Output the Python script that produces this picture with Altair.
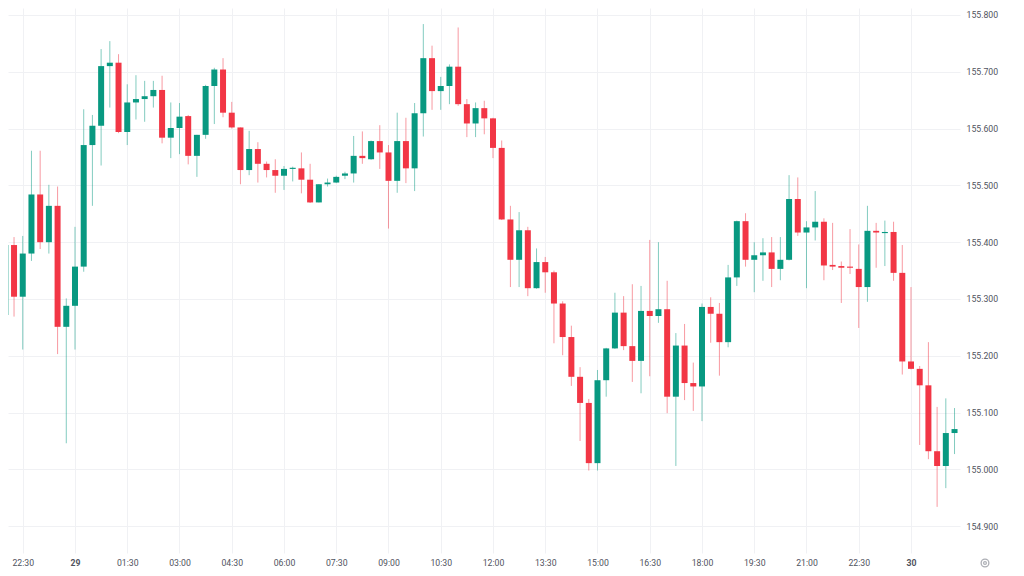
import json
import altair as alt
import pandas as pd

# ---- data (15-minute candles) ----
opens = [155.272, 155.395, 155.304, 155.380, 155.484, 155.400, 155.464, 155.251, 155.288, 155.357,
         155.571, 155.605, 155.710, 155.716, 155.594, 155.646, 155.652, 155.657, 155.668, 155.584,
         155.601, 155.622, 155.552, 155.589, 155.675, 155.704, 155.628, 155.602, 155.527, 155.564,
         155.538, 155.527, 155.517, 155.529, 155.530, 155.510, 155.470, 155.502, 155.505, 155.517,
         155.521, 155.552, 155.546, 155.578, 155.558, 155.508, 155.578, 155.530, 155.627, 155.724,
         155.666, 155.675, 155.709, 155.643, 155.609, 155.636, 155.618, 155.566, 155.440, 155.369,
         155.421, 155.319, 155.365, 155.347, 155.292, 155.233, 155.163, 155.117, 155.011, 155.157,
         155.213, 155.276, 155.217, 155.191, 155.279, 155.270, 155.282, 155.128, 155.218, 155.152,
         155.146, 155.286, 155.274, 155.224, 155.338, 155.437, 155.369, 155.377, 155.382, 155.353,
         155.369, 155.476, 155.417, 155.426, 155.436, 155.360, 155.358, 155.357, 155.353, 155.321,
         155.420, 155.416, 155.418, 155.346, 155.190, 155.177, 155.148, 155.032, 155.006, 155.064]
highs = [155.404, 155.409, 155.411, 155.561, 155.561, 155.501, 155.498, 155.301, 155.427, 155.634,
         155.624, 155.740, 155.754, 155.731, 155.678, 155.694, 155.684, 155.684, 155.693, 155.646,
         155.645, 155.624, 155.589, 155.677, 155.707, 155.724, 155.647, 155.602, 155.596, 155.576,
         155.542, 155.546, 155.534, 155.533, 155.558, 155.538, 155.502, 155.512, 155.517, 155.524,
         155.587, 155.595, 155.579, 155.606, 155.571, 155.628, 155.619, 155.645, 155.784, 155.746,
         155.691, 155.713, 155.778, 155.652, 155.646, 155.649, 155.619, 155.579, 155.464, 155.453,
         155.427, 155.389, 155.374, 155.350, 155.296, 155.253, 155.180, 155.124, 155.175, 155.214,
         155.311, 155.305, 155.326, 155.323, 155.404, 155.400, 155.332, 155.240, 155.256, 155.188,
         155.292, 155.303, 155.293, 155.360, 155.438, 155.451, 155.400, 155.407, 155.409, 155.409,
         155.518, 155.514, 155.437, 155.490, 155.442, 155.434, 155.366, 155.423, 155.396, 155.464,
         155.434, 155.438, 155.436, 155.395, 155.321, 155.182, 155.224, 155.110, 155.125, 155.108]
lows = [155.267, 155.269, 155.211, 155.367, 155.388, 155.380, 155.203, 155.046, 155.211, 155.348,
        155.464, 155.535, 155.637, 155.592, 155.571, 155.616, 155.612, 155.637, 155.574, 155.548,
        155.555, 155.537, 155.515, 155.582, 155.608, 155.620, 155.600, 155.502, 155.518, 155.505,
        155.514, 155.487, 155.492, 155.507, 155.486, 155.469, 155.470, 155.498, 155.504, 155.511,
        155.505, 155.538, 155.545, 155.529, 155.424, 155.487, 155.504, 155.490, 155.586, 155.633,
        155.633, 155.643, 155.640, 155.585, 155.585, 155.590, 155.548, 155.439, 155.321, 155.321,
        155.305, 155.318, 155.311, 155.222, 155.201, 155.147, 155.050, 154.998, 154.998, 155.128,
        155.212, 155.210, 155.154, 155.134, 155.164, 155.258, 155.099, 155.006, 155.122, 155.103,
        155.085, 155.223, 155.165, 155.215, 155.323, 155.357, 155.312, 155.332, 155.321, 155.333,
        155.368, 155.411, 155.319, 155.403, 155.333, 155.351, 155.293, 155.344, 155.249, 155.295,
        155.355, 155.358, 155.332, 155.167, 155.176, 155.043, 155.018, 154.934, 154.967, 155.027]
closes = [155.395, 155.304, 155.380, 155.484, 155.400, 155.464, 155.251, 155.288, 155.357, 155.571,
          155.605, 155.710, 155.716, 155.594, 155.646, 155.652, 155.657, 155.668, 155.584, 155.601,
          155.621, 155.552, 155.589, 155.675, 155.704, 155.628, 155.602, 155.527, 155.564, 155.538,
          155.527, 155.517, 155.529, 155.531, 155.510, 155.470, 155.502, 155.505, 155.515, 155.521,
          155.552, 155.548, 155.578, 155.558, 155.508, 155.578, 155.530, 155.627, 155.724, 155.666,
          155.675, 155.709, 155.643, 155.609, 155.636, 155.618, 155.566, 155.440, 155.369, 155.421,
          155.319, 155.365, 155.347, 155.292, 155.233, 155.163, 155.117, 155.011, 155.157, 155.213,
          155.276, 155.217, 155.191, 155.279, 155.270, 155.282, 155.128, 155.218, 155.152, 155.146,
          155.286, 155.274, 155.224, 155.338, 155.437, 155.369, 155.377, 155.382, 155.353, 155.369,
          155.476, 155.417, 155.426, 155.436, 155.359, 155.357, 155.355, 155.355, 155.321, 155.420,
          155.417, 155.418, 155.346, 155.190, 155.177, 155.148, 155.032, 155.006, 155.064, 155.071]

first_candle = "2025-01-28 22:00"
day_start = "2025-01-29 00:00"

tick_hours = [-1.5, 0, 1.5, 3, 4.5, 6, 7.5, 9, 10.5, 12, 13.5, 15, 16.5, 18, 19.5, 21, 22.5, 24]
tick_labels = ["22:30", "29", "01:30", "03:00", "04:30", "06:00", "07:30", "09:00", "10:30",
               "12:00", "13:30", "15:00", "16:30", "18:00", "19:30", "21:00", "22:30", "30"]
price_ticks = [154.90, 154.95, 155.00, 155.05, 155.10, 155.15, 155.20, 155.25, 155.30, 155.35,
               155.40, 155.45, 155.50, 155.55, 155.60, 155.65, 155.70, 155.75, 155.80]

x_domain = [-1.9234, 25.407]
y_domain = [154.8528, 155.8123]

GREEN = "#089981"
RED = "#F23645"
GRID = "#f0f1f4"
TEXT = "#50535e"
FONT = "Roboto"
FS = 8.7

times = pd.date_range(first_candle, periods=len(opens), freq="15min")
hours = (times - pd.Timestamp(day_start)) / pd.Timedelta(hours=1)
df = pd.DataFrame({"h": hours, "open": opens, "high": highs, "low": lows, "close": closes})
df["dir"] = ["up" if c >= o else "down" for o, c in zip(opens, closes)]

W, H = 952, 545

x = alt.X("h:Q", scale=alt.Scale(domain=x_domain, nice=False, zero=False, padding=0),
          axis=alt.Axis(values=tick_hours, title=None, domain=False, ticks=False,
                        grid=True, gridColor=GRID, gridWidth=1,
                        labelExpr=json.dumps(tick_labels) + "[round((datum.value + 1.5) / 1.5)]",
                        labelFont=FONT, labelFontSize=FS, labelColor=TEXT,
                        labelFontWeight={"condition": {"test": "datum.value == 0 || datum.value == 24",
                                                       "value": "bold"}, "value": "normal"},
                        labelPadding=5, labelFlush=False, labelOverlap=False, labelBound=False))
color = alt.Color("dir:N", scale=alt.Scale(domain=["up", "down"], range=[GREEN, RED]), legend=None)

base = alt.Chart(df)

wicks = base.mark_rule(clip=True, strokeWidth=1, opacity=0.5).encode(
    x=x,
    y=alt.Y("low:Q", scale=alt.Scale(domain=y_domain, nice=False, zero=False, padding=0),
            axis=alt.Axis(orient="right", values=price_ticks, format=".3f", title=None,
                          domain=False, ticks=False, grid=True, gridColor=GRID, gridWidth=1,
                          labelAlign="left", labelPadding=6, labelFont=FONT, labelFontSize=FS,
                          labelColor=TEXT, labelFlush=False, labelOverlap=False, labelBound=False)),
    y2="high:Q",
    color=color,
)

bodies = base.mark_bar(clip=True, size=6).encode(
    x=x,
    y="open:Q",
    y2="close:Q",
    color=color,
)

one = pd.DataFrame({"k": [0]})
icon_outer = alt.Chart(one).mark_point(shape="circle", size=60, filled=False,
                                       color="#8a8d96", strokeWidth=1.3).encode(
    x=alt.value(977), y=alt.value(555))
icon_inner = alt.Chart(one).mark_point(shape="circle", size=8, filled=False,
                                       color="#8a8d96", strokeWidth=1.2).encode(
    x=alt.value(977), y=alt.value(555))

chart = alt.layer(wicks, bodies, icon_outer, icon_inner).properties(
    width=W, height=H,
    autosize=alt.AutoSizeParams(type="none"),
    padding={"left": 0, "top": 0, "right": 56, "bottom": 15},
    background="white",
).configure_view(stroke=None)

chart.save("out.html", embed_options={"renderer": "svg", "actions": False})
